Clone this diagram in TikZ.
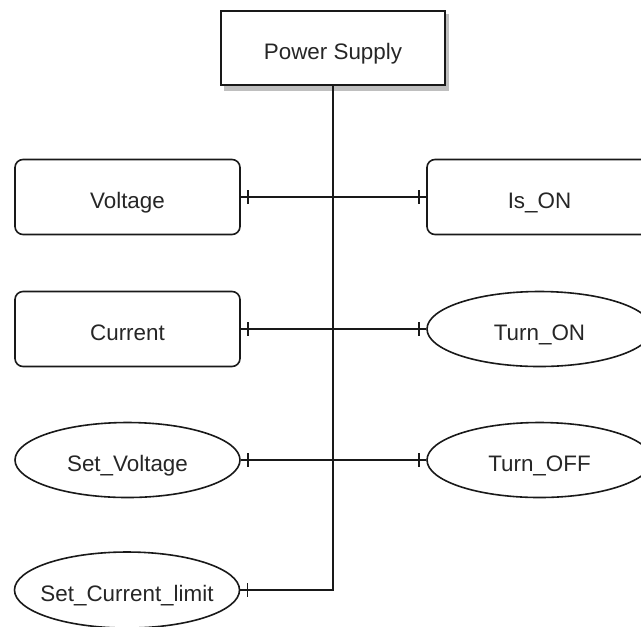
\documentclass[tikz,border=0pt]{standalone}
\usepackage{fontspec}
\setmainfont{Liberation Sans}
\usetikzlibrary{shapes.geometric}
\begin{document}
\begin{tikzpicture}[x=0.75pt,y=-0.75pt,
  every node/.style={font=\fontsize{16.8pt}{20pt}\selectfont, text=black!85, text height=16.5pt, text depth=0pt},
  shp/.style={draw=black!90, line width=1.2pt, minimum width=168.75pt, minimum height=56.25pt, inner sep=0pt},
  rbox/.style={shp, rectangle, rounded corners=6pt},
  ell/.style={shp, ellipse},
  conn/.style={draw=black!90, line width=1.2pt},
  tickmark/.style={draw=black!90, line width=1.2pt}]
\useasboundingbox (0,0) rectangle (641,626);
% shadow of power supply
\fill[black!25] (224,14) rectangle (449,91);
\node[shp, fill=white, minimum width=168pt, minimum height=55.5pt] (ps) at (333,48) {Power Supply};
\node[rbox] (voltage) at (127.5,197) {Voltage};
\node[rbox] (ison) at (539.5,197) {Is\_ON};
\node[rbox] (current) at (127.5,329) {Current};
\node[ell, label=center:Turn\_ON] (turnon) at (539.5,329) {};
\node[ell, label=center:Set\_Voltage] (setv) at (127.5,460) {};
\node[ell, label=center:Turn\_OFF] (turnoff) at (539.5,460) {};
\node[ell, minimum height=57pt, label=center:Set\_Current\_limit] (setcl) at (127,590) {};
% connectors
\draw[conn] (ps.south) |- (setcl.east);
\draw[conn] (voltage.east) -- (ison.west);
\draw[conn] (current.east) -- (turnon.west);
\draw[conn] (setv.east) -- (turnoff.west);
% ticks
\foreach \n in {voltage,current,setv,setcl}{
  \draw[tickmark] ([xshift=5.25pt,yshift=5.25pt]\n.east) -- ([xshift=5.25pt,yshift=-5.25pt]\n.east);
}
\foreach \n in {ison,turnon,turnoff}{
  \draw[tickmark] ([xshift=-5.25pt,yshift=5.25pt]\n.west) -- ([xshift=-5.25pt,yshift=-5.25pt]\n.west);
}
\end{tikzpicture}
\end{document}
